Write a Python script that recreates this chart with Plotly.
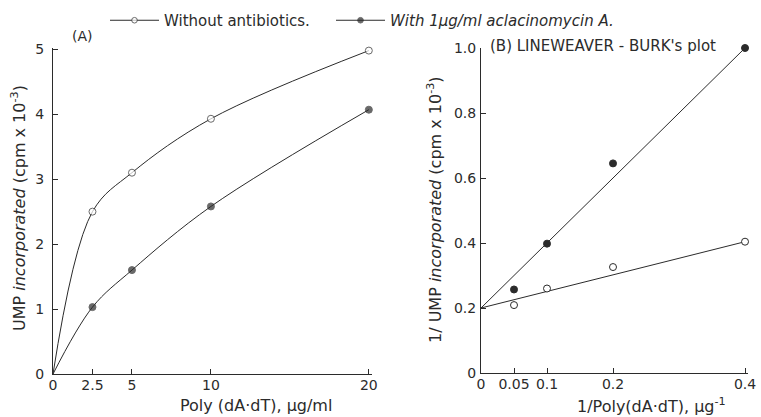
import plotly.graph_objects as go

# ---- Data ----
conc = [0, 2.5, 5, 10, 20]                      # Poly(dA·dT), ug/ml
ump_without = [0, 2.5, 3.1, 3.93, 4.98]         # cpm x 10^-3
ump_with = [0, 1.03, 1.6, 2.58, 4.07]

inv_conc = [0.05, 0.1, 0.2, 0.4]                # 1/Poly(dA·dT)
inv_without = [0.209, 0.26, 0.326, 0.404]
inv_with = [0.257, 0.398, 0.645, 1.0]
fit_x = [0, 0.4]
fit_without = [0.2, 0.404]
fit_with = [0.2, 1.0]

x_ticks_a = [0, 2.5, 5, 10, 20]
x_ticklabels_a = ["0", "2.5", "5", "10", "20"]
y_ticks_a = [0, 1, 2, 3, 4, 5]
x_ticks_b = [0, 0.05, 0.1, 0.2, 0.4]
x_ticklabels_b = ["0", "0.05", "0.1", "0.2", "0.4"]
y_ticks_b = [0, 0.2, 0.4, 0.6, 0.8, 1.0]
y_ticklabels_b = ["0", "0.2", "0.4", "0.6", "0.8", "1.0"]

INK = "#2b2b2b"
FONT = "DejaVu Sans"
MS = 7

open_marker = dict(symbol="circle", color="white", size=[0] + [MS] * 4,
                   line=dict(color=INK, width=1))
filled_marker = dict(symbol="circle", color=INK, size=[0] + [MS] * 4,
                     line=dict(color=INK, width=1))

fig = go.Figure()

# Panel A
fig.add_trace(go.Scatter(x=conc, y=ump_without, mode="lines+markers",
                         line=dict(color=INK, width=1, shape="spline", smoothing=1.0),
                         marker=open_marker, name="Without antibiotics.",
                         legend="legend", cliponaxis=False, xaxis="x", yaxis="y"))
fig.add_trace(go.Scatter(x=conc, y=ump_with, mode="lines+markers",
                         line=dict(color=INK, width=1, shape="spline", smoothing=1.0),
                         marker=filled_marker, name="<i>With 1μg/ml aclacinomycin A.</i>",
                         legend="legend2", cliponaxis=False, xaxis="x", yaxis="y"))

# Panel B
fig.add_trace(go.Scatter(x=fit_x, y=fit_without, mode="lines",
                         line=dict(color=INK, width=1), showlegend=False,
                         cliponaxis=False, xaxis="x2", yaxis="y2"))
fig.add_trace(go.Scatter(x=fit_x, y=fit_with, mode="lines",
                         line=dict(color=INK, width=1), showlegend=False,
                         cliponaxis=False, xaxis="x2", yaxis="y2"))
fig.add_trace(go.Scatter(x=inv_conc, y=inv_without, mode="markers",
                         marker=dict(symbol="circle", color="white", size=MS,
                                     line=dict(color=INK, width=1)),
                         showlegend=False, cliponaxis=False, xaxis="x2", yaxis="y2"))
fig.add_trace(go.Scatter(x=inv_conc, y=inv_with, mode="markers",
                         marker=dict(symbol="circle", color=INK, size=MS,
                                     line=dict(color=INK, width=1)),
                         showlegend=False, cliponaxis=False, xaxis="x2", yaxis="y2"))

W, H = 761, 417
def px_x(p):
    return p / W
def px_y(p):
    return 1 - p / H

axis_common = dict(showline=True, linecolor=INK, linewidth=1, ticks="inside",
                   ticklen=5, tickcolor=INK, tickwidth=1, showgrid=False,
                   zeroline=False, mirror=False, automargin=False,
                   ticklabeloverflow="allow",
                   tickfont=dict(family=FONT, size=14, color=INK))

def ann(text, x, y, size, **kw):
    d = dict(text=text, x=px_x(x), y=px_y(y), xref="paper", yref="paper",
             xanchor="center", yanchor="middle", showarrow=False,
             font=dict(family=FONT, size=size, color=INK))
    d.update(kw)
    return d

legend_common = dict(orientation="h", y=px_y(4), xanchor="left", yanchor="top",
                     bgcolor="rgba(0,0,0,0)", font=dict(family=FONT, size=15, color=INK),
                     itemwidth=49, tracegroupgap=0)

fig.update_layout(
    width=W, height=H,
    margin=dict(l=0, r=0, t=0, b=0),
    paper_bgcolor="white", plot_bgcolor="white",
    font=dict(family=FONT, color=INK),
    xaxis=dict(domain=[px_x(53), px_x(372)], range=[0, 20.2], anchor="y",
               tickvals=x_ticks_a, ticktext=x_ticklabels_a,
               ticklabelstandoff=-2, **axis_common),
    yaxis=dict(domain=[px_y(374), px_y(48)], range=[0, 5.02], anchor="x",
               tickvals=y_ticks_a, ticklabelstandoff=5, **axis_common),
    xaxis2=dict(domain=[px_x(481), px_x(748)], range=[0, 0.4045], anchor="y2",
                tickvals=x_ticks_b, ticktext=x_ticklabels_b,
                ticklabelstandoff=-2, **axis_common),
    yaxis2=dict(domain=[px_y(373), px_y(48)], range=[0, 1.0], anchor="x2",
                tickvals=y_ticks_b, ticktext=y_ticklabels_b,
                ticklabelstandoff=1, **axis_common),
    showlegend=True,
    legend=dict(x=px_x(105), **legend_common),
    legend2=dict(x=px_x(331), **legend_common),
    annotations=[
        ann("(A)", 82, 36, 14),
        ann("(B) LINEWEAVER - BURK's plot", 488, 46, 15, xanchor="left"),
        ann("UMP <i>incorporated</i> (cpm x 10<sup>-3</sup>)", 18, 208, 16, textangle=-90),
        ann("Poly (dA·dT), μg/ml", 256, 405, 16),
        ann("1/ UMP <i>incorporated</i> (cpm x 10<sup>-3</sup>)", 434, 210, 16, textangle=-90),
        ann("1/Poly(dA·dT), μg<sup>-1</sup>", 651, 405, 16),
    ],
)

fig.write_html("out.html", config={"displayModeBar": False},
               post_script="document.body.style.margin='0';document.body.style.overflow='hidden';")
